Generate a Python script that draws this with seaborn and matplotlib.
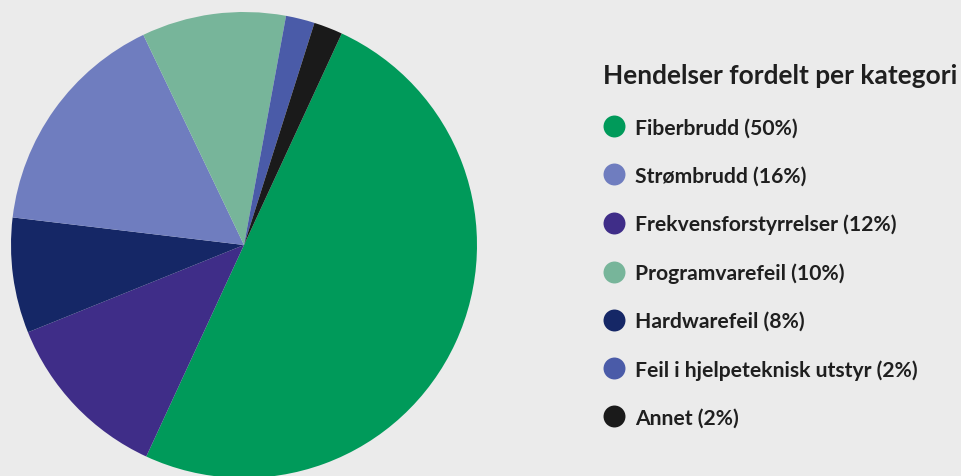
import matplotlib.pyplot as plt
from matplotlib.lines import Line2D
import seaborn as sns

# data (clockwise order in the pie)
pie_labels = ["Fiberbrudd", "Frekvensforstyrrelser", "Hardwarefeil", "Strømbrudd",
              "Programvarefeil", "Feil i hjelpeteknisk utstyr", "Annet"]
pie_values = [50, 12, 8, 16, 10, 2, 2]
pie_colors = ["#009a5a", "#3f2d88", "#152766", "#6f7dbf", "#77b59a", "#4a5ba8", "#1a1a1a"]

# legend order
legend_order = ["Fiberbrudd", "Strømbrudd", "Frekvensforstyrrelser", "Programvarefeil",
                "Hardwarefeil", "Feil i hjelpeteknisk utstyr", "Annet"]
legend_title = "Hendelser fordelt per kategori"

sns.set_style("white")
plt.rcParams['font.family'] = ['Lato', 'DejaVu Sans']
bg = "#ebebeb"

W, H = 961, 477
fig = plt.figure(figsize=(W/100, H/100), dpi=100, facecolor=bg)

# pie axes: center ~ (244, 246) px from top-left, radius ~233 px
R = 233
cx, cy = 244, H - 246
ax = fig.add_axes([(cx - R)/W, (cy - R)/H, 2*R/W, 2*R/H])
ax.set_facecolor(bg)
ax.pie(pie_values, colors=sns.color_palette(pie_colors), startangle=65.2,
       counterclock=False, radius=1, wedgeprops=dict(linewidth=0))
ax.set_xlim(-1, 1)
ax.set_ylim(-1, 1)
ax.axis("off")

color_map = dict(zip(pie_labels, pie_colors))
value_map = dict(zip(pie_labels, pie_values))
handles = [Line2D([], [], marker="o", linestyle="", markersize=15.8,
                  markerfacecolor=color_map[k], markeredgewidth=0)
           for k in legend_order]
labels = [f"{k} ({value_map[k]}%)" for k in legend_order]

leg = fig.legend(handles, labels, loc="upper left",
                 bbox_to_anchor=(603/W, 1 - 64/H), frameon=False,
                 title=legend_title, alignment="left",
                 prop=dict(family="Lato", weight="bold", size=15.2),
                 title_fontproperties=dict(family="Lato", weight="bold", size=18.9),
                 handlelength=1.0, handletextpad=0.5, labelspacing=1.33,
                 borderpad=0, borderaxespad=0)
for t in leg.get_texts():
    t.set_color("#1f1f1f")
leg.get_title().set_color("#1f1f1f")
leg._legend_box.sep = 22

fig.savefig("out.png", dpi=100, facecolor=bg)
